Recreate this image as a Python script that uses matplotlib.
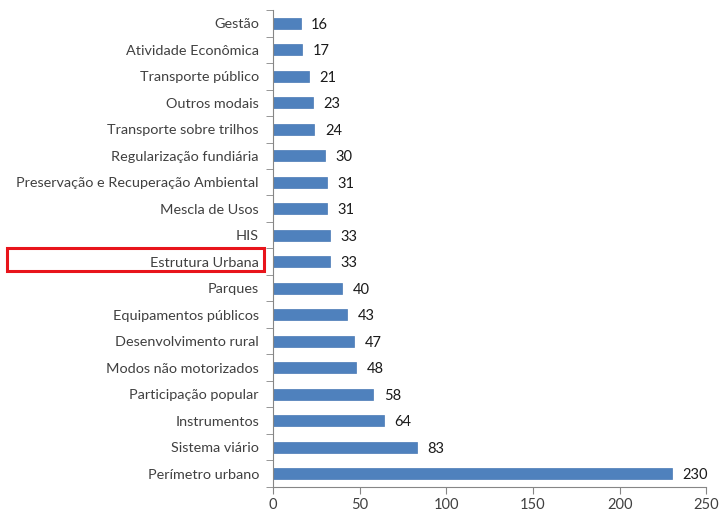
import numpy as np
import matplotlib
matplotlib.use("Agg")
import matplotlib.pyplot as plt
from matplotlib.patches import Rectangle
from matplotlib.transforms import blended_transform_factory

# Categories listed from top to bottom
categories = [
    "Gestão", "Atividade Econômica", "Transporte público", "Outros modais",
    "Transporte sobre trilhos", "Regularização fundiária",
    "Preservação e Recuperação Ambiental", "Mescla de Usos", "HIS",
    "Estrutura Urbana", "Parques", "Equipamentos públicos",
    "Desenvolvimento rural", "Modos não motorizados", "Participação popular",
    "Instrumentos", "Sistema viário", "Perímetro urbano",
]
counts = [16, 17, 21, 23, 24, 30, 31, 31, 33, 33, 40, 43, 47, 48, 58, 64, 83, 230]
x_ticks = [0, 50, 100, 150, 200, 250]
highlight = "Estrutura Urbana"

plt.rcParams["font.family"] = ["Lato", "DejaVu Sans"]
text_color = "#404040"
axis_color = "#868686"

fig = plt.figure(figsize=(7.2, 5.13), dpi=100)
ax = fig.add_axes([0.379, 0.0507, 0.602, 0.9298])

n = len(categories)
y = np.arange(n)
ax.barh(y, counts, height=0.43, color="#4F81BD", edgecolor="#4A7AB5", linewidth=0.5)

for yi, v in zip(y, counts):
    ax.annotate(str(v), (v, yi), xytext=(7.5, -1), textcoords="offset points",
                va="center", ha="left", fontsize=10.5, color="#1a1a1a")

ax.set_ylim(n - 0.5, -0.5)
ax.set_xlim(0, 250)
ax.set_yticks(y)
ax.set_yticklabels(categories, fontsize=10.4, color=text_color)
ax.set_yticks(np.arange(-0.5, n, 1), minor=True)
ax.tick_params(axis="y", which="major", length=0, pad=10)
ax.tick_params(axis="y", which="minor", length=5, color=axis_color, direction="out")
ax.set_xticks(x_ticks)
ax.tick_params(axis="x", length=5, color=axis_color, labelsize=10.5,
               labelcolor=text_color, pad=3)

for side in ["top", "right"]:
    ax.spines[side].set_visible(False)
for side in ["left", "bottom"]:
    ax.spines[side].set_color(axis_color)
    ax.spines[side].set_linewidth(0.8)

# Red frame around the highlighted category label
idx = categories.index(highlight)
trans = blended_transform_factory(fig.transFigure, ax.transData)
box = Rectangle((0.010, idx - 0.52), 0.357, 0.88, transform=trans,
                fill=False, edgecolor="#E8141B", linewidth=2.2, clip_on=False)
fig.add_artist(box)

fig.savefig("out.png", dpi=100)
